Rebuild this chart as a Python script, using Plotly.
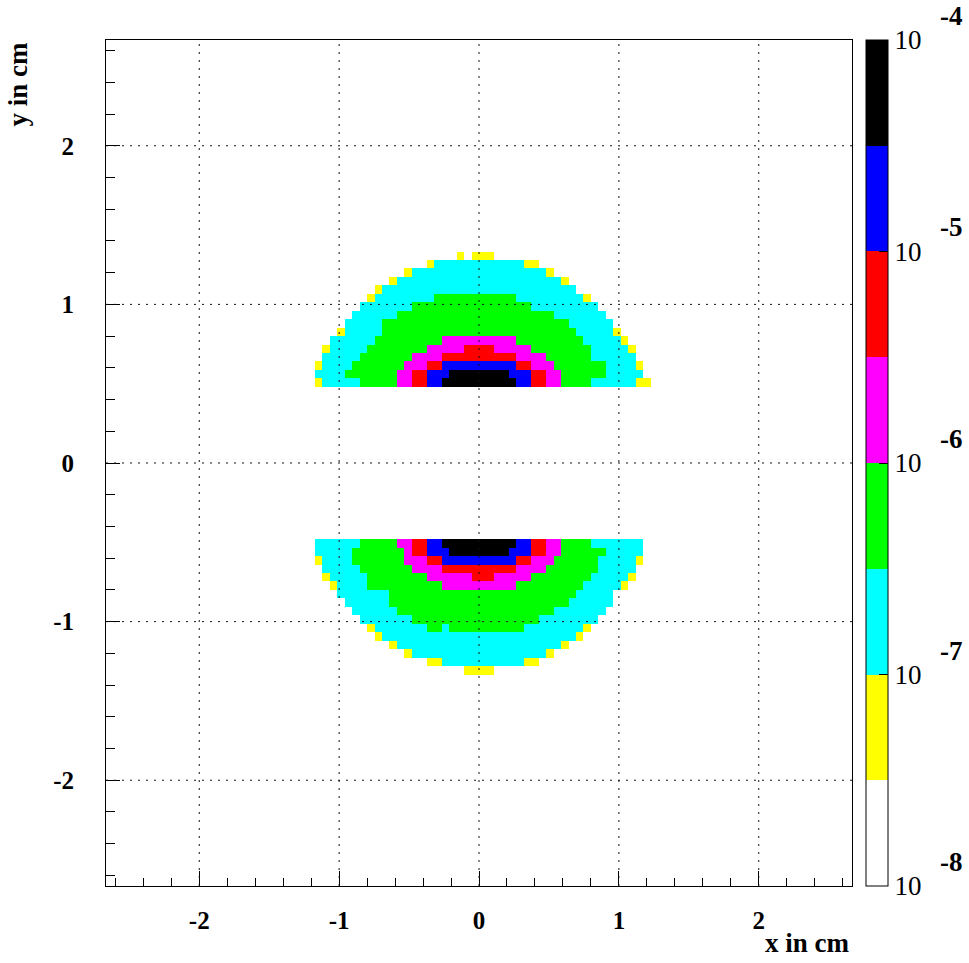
import numpy as np
import plotly.graph_objects as go

# Histogram binning: 100 x 100 bins over [-8/3, 8/3] cm in x and y
N_BINS = 100
AXIS_MIN, AXIS_MAX = -8.0 / 3.0, 8.0 / 3.0

# Colour bands of the z axis (log10 scale, 10^-8 .. 10^-4, eight half-decade steps)
Z_LOG_MIN, Z_LOG_MAX = -8.0, -4.0
band_colors = ["#ffffff", "#ffff00", "#00ffff", "#00ff00",
               "#ff00ff", "#ff0000", "#0000ff", "#000000"]

# Estimated log10(bin content) for each band code
level_log10 = {"Y": -7.25, "C": -6.75, "G": -6.25, "M": -5.75,
               "R": -5.25, "B": -4.75, "K": -4.25}

# Filled bins, row by row: (y bin, first x bin, run-length coded contents).
# Bin i spans [i*w, (i+1)*w]; "_" marks an empty bin.
upper_rows = [
    (9,  -22, "Y1 C5 G5 M2 R2 B2 K10 B2 R2 M2 G4 C6 Y2"),
    (10, -22, "C4 G7 M2 R2 B3 K8 B3 R2 M2 G6 C5"),
    (11, -22, "Y1 C4 G7 M3 R2 B10 R2 M3 G7 C4 Y1"),
    (12, -21, "C5 G7 M4 R10 M4 G6 C6"),
    (13, -21, "Y1 C5 G8 M5 R4 M5 G8 C5 Y1"),
    (14, -20, "C6 G9 M10 G9 C5 Y1"),
    (15, -19, "Y1 C5 G26 C5 Y1"),
    (16, -18, "C5 G25 C6"),
    (17, -17, "C6 G21 C7"),
    (18, -16, "C7 G16 C9"),
    (19, -15, "Y1 C8 G11 C9 Y1"),
    (20, -14, "Y1 C26"),
    (21, -12, "Y1 C22 Y1"),
    (22, -10, "Y1 C18 Y1"),
    (23, -7,  "Y1 C12 Y2"),
    (24, -3,  "Y1 _1 Y3"),
]
lower_rows = [
    (-10, -22, "C6 G5 M2 R2 B2 K10 B2 R2 M2 G4 C7"),
    (-11, -22, "C5 G7 M1 R2 B3 K8 B3 R2 M2 G6 C5"),
    (-12, -22, "Y1 C4 G7 M3 R2 B10 R2 M3 G6 C5 Y1"),
    (-13, -21, "C5 G7 M4 R10 M4 G7 C5"),
    (-14, -21, "Y1 C5 G8 M6 R3 M5 G8 C5 Y1"),
    (-15, -20, "Y1 C4 G10 M10 G9 C5 Y1"),
    (-16, -19, "C7 G25 C5"),
    (-17, -18, "C6 G24 C6"),
    (-18, -17, "C6 G21 C7"),
    (-19, -16, "C7 G17 C8"),
    (-20, -15, "Y1 C7 G2 C1 G10 C8 Y1"),
    (-21, -14, "Y1 C26 Y1"),
    (-22, -12, "Y1 C22 Y1"),
    (-23, -10, "Y1 C18 Y1"),
    (-24, -7,  "Y2 C11 Y2"),
    (-25, -2,  "Y4"),
]

# Axis ticks
major_ticks = [-2, -1, 0, 1, 2]
z_decades = [-8, -7, -6, -5, -4]

# ---------------------------------------------------------------------------
bin_w = (AXIS_MAX - AXIS_MIN) / N_BINS
centers = AXIS_MIN + (np.arange(N_BINS) + 0.5) * bin_w
z = np.full((N_BINS, N_BINS), np.nan)
for j, start, runs in upper_rows + lower_rows:
    k = start
    for run in runs.split():
        code, count = run[0], int(run[1:])
        for _ in range(count):
            if code != "_":
                z[j + N_BINS // 2, k + N_BINS // 2] = level_log10[code]
            k += 1

n_bands = len(band_colors)
colorscale = []
for i, c in enumerate(band_colors):
    colorscale.append([i / n_bands, c])
    colorscale.append([(i + 1) / n_bands, c])

# Page geometry (pixels)
W, H = 969, 963
ML, MR, MT, MB = 106, 117, 40, 77
PW, PH = W - ML - MR, H - MT - MB

def px_x(px):
    return (px - ML) / PW

def px_dy(px):
    return px / PH

serif = "Liberation Serif"
black = "#000000"

fig = go.Figure()
fig.add_trace(go.Heatmap(
    x=centers, y=centers, z=z,
    zmin=Z_LOG_MIN, zmax=Z_LOG_MAX,
    colorscale=colorscale,
    hoverinfo="skip",
    colorbar=dict(
        x=px_x(866), xanchor="left", xpad=0,
        y=0.5, yanchor="middle", len=1, lenmode="fraction", ypad=0,
        thickness=22, thicknessmode="pixels",
        outlinewidth=1, outlinecolor=black,
        tickmode="array", tickvals=z_decades, ticktext=["10"] * len(z_decades),
        ticks="inside", ticklen=9, tickwidth=1, tickcolor=black,
        tickfont=dict(family=serif, size=27, color=black),
    ),
))

axis_common = dict(
    range=[AXIS_MIN, AXIS_MAX],
    showgrid=False, zeroline=False,
    showline=True, linecolor=black, linewidth=1, mirror=True,
    tickmode="array", tickvals=major_ticks,
    ticktext=[str(v) for v in major_ticks],
    ticks="inside", tickwidth=1, tickcolor=black,
    minor=dict(ticks="inside", dtick=0.2, tick0=0, tickcolor=black, tickwidth=1),
    tickfont=dict(family=serif, size=25, color=black, weight="bold"),
)

fig.update_layout(
    width=W, height=H,
    margin=dict(l=ML, r=MR, t=MT, b=MB, autoexpand=False),
    paper_bgcolor="white", plot_bgcolor="white",
    xaxis=dict(axis_common, ticklen=15, ticklabelstandoff=12,
               minor=dict(axis_common["minor"], ticklen=8)),
    yaxis=dict(axis_common, ticklen=14, ticklabelstandoff=26,
               minor=dict(axis_common["minor"], ticklen=9)),
    showlegend=False,
)

# Dotted grid drawn over the histogram at the major ticks
for v in major_ticks:
    fig.add_shape(type="line", xref="x", yref="y domain", x0=v, x1=v, y0=0, y1=1,
                  line=dict(color="#111111", width=1, dash="2px,6px"), layer="above")
    fig.add_shape(type="line", xref="x domain", yref="y", x0=0, x1=1, y0=v, y1=v,
                  line=dict(color="#111111", width=1, dash="2px,6px"), layer="above")

# Minor ticks of the logarithmic colour scale
for d in z_decades[:-1]:
    for m in range(2, 10):
        frac = (d + np.log10(m) - Z_LOG_MIN) / (Z_LOG_MAX - Z_LOG_MIN)
        fig.add_shape(type="line", xref="paper", yref="paper",
                      x0=px_x(888 - 9), x1=px_x(888), y0=frac, y1=frac,
                      line=dict(color=black, width=1))

# Exponents of the colour scale labels (10^-8 ... 10^-4)
for d in z_decades:
    frac = (d - Z_LOG_MIN) / (Z_LOG_MAX - Z_LOG_MIN)
    fig.add_annotation(x=px_x(951), y=frac + px_dy(24), xref="paper", yref="paper",
                       text=str(d), showarrow=False, xanchor="center", yanchor="middle",
                       font=dict(family=serif, size=27, color=black, weight="bold"))

# Axis titles
fig.add_annotation(x=1, y=-px_dy(57), xref="paper", yref="paper", text="x in cm",
                   showarrow=False, xanchor="right", yanchor="middle",
                   font=dict(family=serif, size=27, color=black, weight="bold"))
fig.add_annotation(x=px_x(17), y=1, xref="paper", yref="paper", text="y in cm",
                   showarrow=False, textangle=-90, xanchor="center", yanchor="top",
                   font=dict(family=serif, size=27, color=black, weight="bold"))

fig.write_html("out.html")
